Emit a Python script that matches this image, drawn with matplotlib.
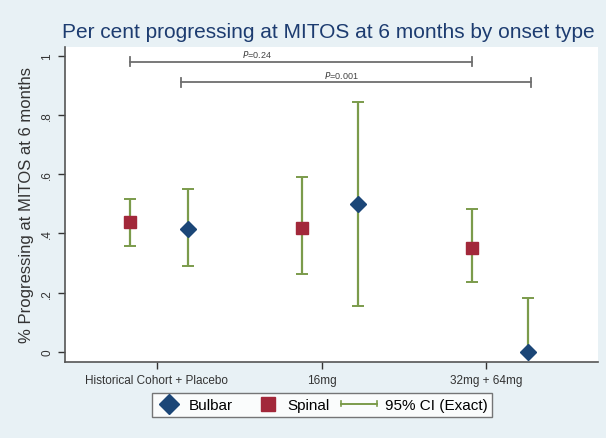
import matplotlib.pyplot as plt
from matplotlib.lines import Line2D
from matplotlib.legend_handler import HandlerBase

plt.rcParams['font.family'] = ['Liberation Sans', 'DejaVu Sans']

# Data
groups = ["Historical Cohort + Placebo", "16mg", "32mg + 64mg"]
group_pos = [1, 2, 3]

spinal_x = [0.84, 1.88, 2.91]
spinal_y = [0.438, 0.419, 0.351]
spinal_lo = [0.359, 0.262, 0.235]
spinal_hi = [0.517, 0.590, 0.481]

bulbar_x = [1.19, 2.22, 3.25]
bulbar_y = [0.416, 0.500, 0.0]
bulbar_lo = [0.290, 0.155, 0.0]
bulbar_hi = [0.550, 0.845, 0.182]

# comparison brackets
comp_x0 = [0.84, 1.15]
comp_x1 = [2.91, 3.27]
comp_y = [0.98, 0.911]
comp_labels = ["P=0.24", "P=0.001"]
comp_text_x = [1.61, 2.12]

bg = '#e8f1f5'
green = '#7b9b4b'
navy = '#1b4677'
red = '#a2283a'


class CIHandler(HandlerBase):
    # horizontal line with small caps at both ends, stretched to the left
    def create_artists(self, legend, orig, xd, yd, w, h, fs, trans):
        y = h / 2 - yd
        x0, x1 = -xd - 0.5 * w, w - xd
        c = h * 0.25
        arts = [Line2D([x0, x1], [y, y], color=green, lw=1.4),
                Line2D([x0, x0], [y - c, y + c], color=green, lw=1.2),
                Line2D([x1, x1], [y - c, y + c], color=green, lw=1.2)]
        for a in arts:
            a.set_transform(trans)
        return arts


fig = plt.figure(figsize=(6.06, 4.39), dpi=100, facecolor=bg)
ax = fig.add_axes([0.107, 0.173, 0.880, 0.718])
ax.set_facecolor('white')

for x, y, lo, hi in zip(spinal_x + bulbar_x, spinal_y + bulbar_y,
                        spinal_lo + bulbar_lo, spinal_hi + bulbar_hi):
    ax.errorbar(x, y, yerr=[[y - lo], [hi - y]], fmt='none', ecolor=green,
                elinewidth=1.6, capsize=4, capthick=1.4, zorder=2)

ax.plot(spinal_x, spinal_y, 's', color=red, ms=9, mec=red, zorder=3, ls='none')
ax.plot(bulbar_x, bulbar_y, 'D', color=navy, ms=8.5, mec=navy, zorder=3, ls='none')

for x0, x1, y, lab, tx in zip(comp_x0, comp_x1, comp_y, comp_labels, comp_text_x):
    ax.plot([x0, x1], [y, y], color='#6e6e6e', lw=1.3)
    ax.plot([x0, x0], [y - 0.015, y + 0.015], color='#6e6e6e', lw=1.3)
    ax.plot([x1, x1], [y - 0.015, y + 0.015], color='#6e6e6e', lw=1.3)
    ax.text(tx, y + 0.008, '$\\it{P}$' + lab[1:], fontsize=6.5, color='#444444',
            ha='center', va='bottom')

ax.set_xlim(0.444, 3.677)
ax.set_ylim(-0.034, 1.03)
ax.set_xticks(group_pos)
ax.set_xticklabels(groups, fontsize=8.5)
ax.set_yticks([0, 0.2, 0.4, 0.6, 0.8, 1])
ax.set_yticklabels(['0', '.2', '.4', '.6', '.8', '1'], fontsize=8.5, rotation=90, va='center')
ax.tick_params(colors='#333333', length=5, width=1, direction='out')
ax.set_ylabel('% Progressing at MITOS at 6 months', fontsize=12, color='#333333', labelpad=5)

for s in ['top', 'right']:
    ax.spines[s].set_visible(False)
for s in ['left', 'bottom']:
    ax.spines[s].set_color('#555555')
    ax.spines[s].set_linewidth(1.2)

fig.text(0.102, 0.927, 'Per cent progressing at MITOS at 6 months by onset type',
         fontsize=15, color='#1d3c70', ha='left', va='center')

ci_handle = Line2D([], [], color=green)
handles = [
    Line2D([], [], marker='D', color=navy, ls='none', ms=10),
    Line2D([], [], marker='s', color=red, ls='none', ms=9.5),
    ci_handle,
]
leg = fig.legend(handles, ['Bulbar', 'Spinal', '95% CI (Exact)'], loc='center',
                 bbox_to_anchor=(322 / 606, 1 - 406 / 439), ncol=3, fontsize=11,
                 frameon=True, fancybox=False, edgecolor='#555555', handlelength=1.6,
                 columnspacing=1.5, handletextpad=0.5, borderpad=0.3,
                 handler_map={ci_handle: CIHandler()})
leg.get_frame().set_linewidth(1.0)

fig.savefig('out.png', dpi=100, facecolor=bg)
